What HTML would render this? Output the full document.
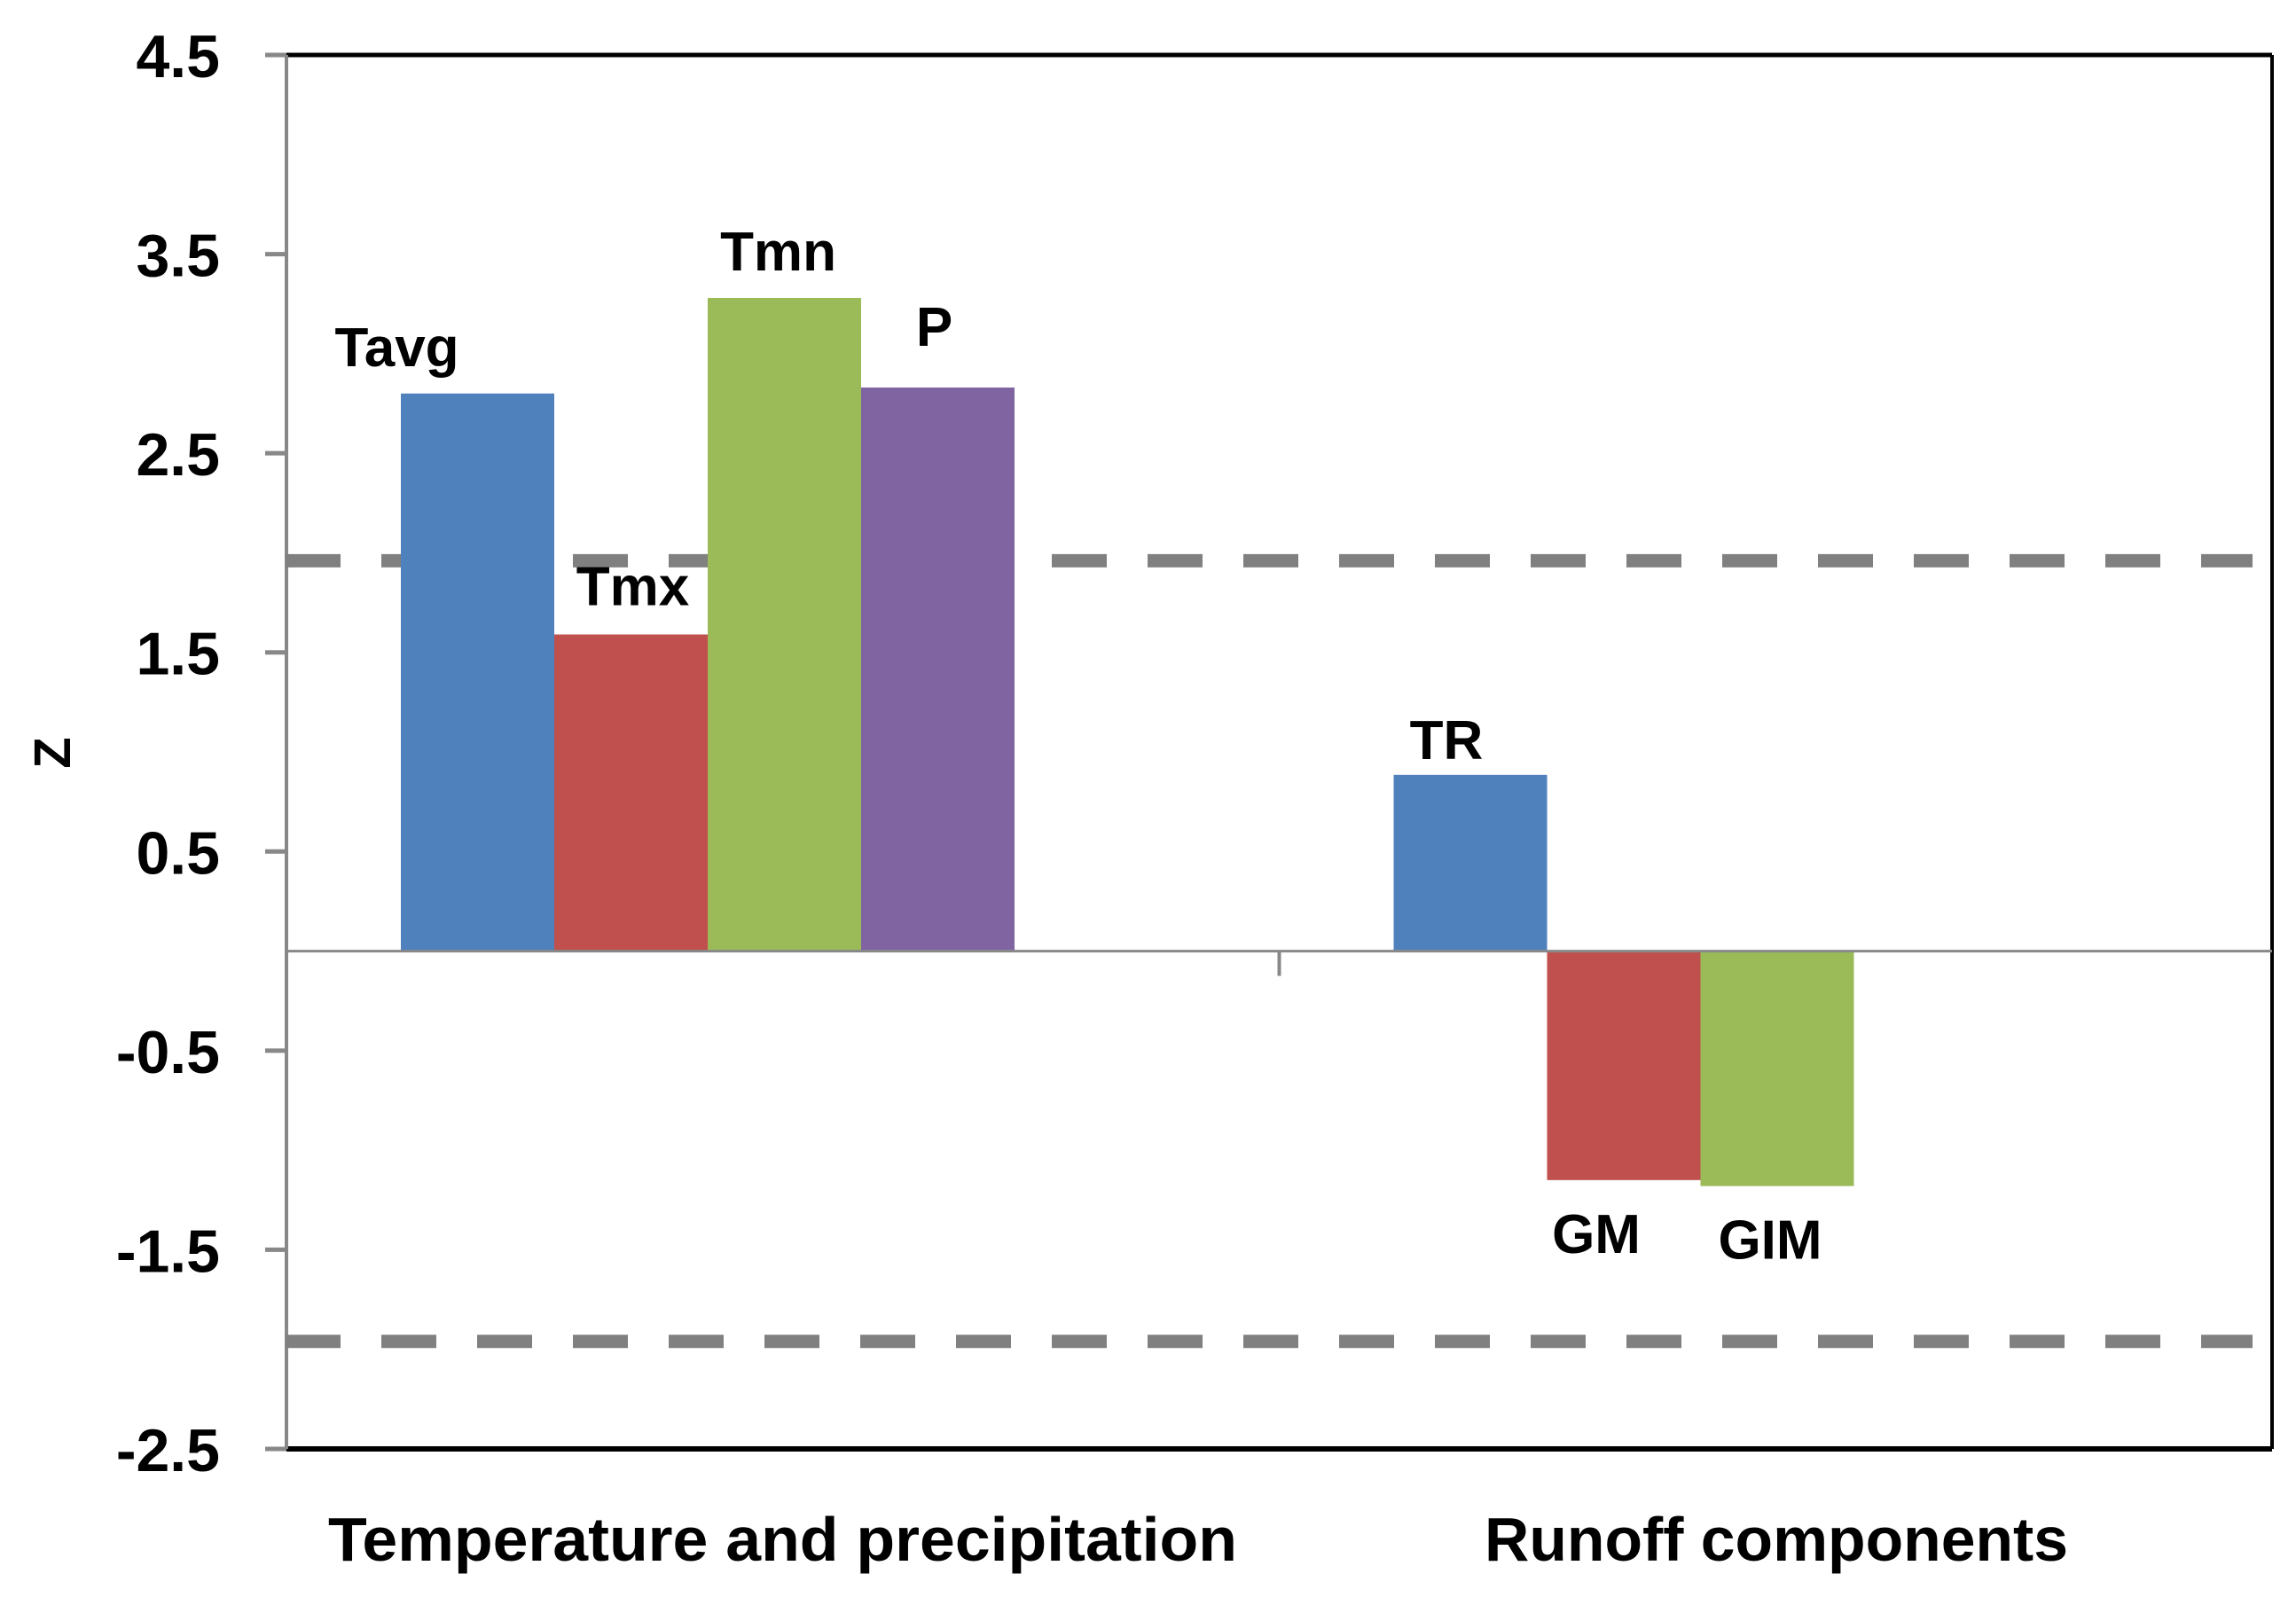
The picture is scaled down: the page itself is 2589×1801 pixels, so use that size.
<!DOCTYPE html>
<html><head><meta charset="utf-8"><style>html,body{margin:0;padding:0;background:#fff}svg{display:block}text{font-family:"Liberation Sans",sans-serif;font-weight:bold;fill:#000}</style></head>
<body>
<svg id="chart" width="2589" height="1801" viewBox="0 0 2589 1801" xmlns="http://www.w3.org/2000/svg"></svg>
<script>
const categories = ["Temperature and precipitation", "Runoff components"];
const group1Labels = ["Tavg", "Tmx", "Tmn", "P"];
const group1Values = [2.80, 1.59, 3.28, 2.83];
const group2Labels = ["TR", "GM", "GIM"];
const group2Values = [0.885, -1.15, -1.18];
const yTicks = [4.5, 3.5, 2.5, 1.5, 0.5, -0.5, -1.5, -2.5];
const yTickLabels = ["4.5", "3.5", "2.5", "1.5", "0.5", "-0.5", "-1.5", "-2.5"];
const criticalValues = [1.96, -1.96];

const colors = ["#4f81bd", "#c0504d", "#9bbb59", "#8064a2"];
const L = 323, R = 2562, T = 62, B = 1634;
const yMin = -2.5, yMax = 4.5;
const y = v => T + (yMax - v) / (yMax - yMin) * (B - T);
const band = (R - L) / categories.length;
const barW = 173;
const groupOffset = 129;
const xBar = (g, i) => L + g * band + groupOffset + i * barW;
const svg = document.getElementById('chart');
const NS = "http://www.w3.org/2000/svg";
function mk(tag, attrs, parent) {
  const e = document.createElementNS(NS, tag);
  for (const k in attrs) e.setAttribute(k, attrs[k]);
  (parent || svg).appendChild(e);
  return e;
}
let e = mk('line', {x1: L, y1: T, x2: R, y2: T, stroke: '#000', 'stroke-width': 5});


e = mk('line', {x1: R, y1: T, x2: R, y2: B, stroke: '#000', 'stroke-width': 4});


e = mk('line', {x1: L, y1: B, x2: R, y2: B, stroke: '#000', 'stroke-width': 6});


e = mk('line', {x1: L, y1: T, x2: L, y2: B, stroke: '#888', 'stroke-width': 4});



yTicks.forEach((v, i) => {
  const t = mk('line', {x1: L - 24, y1: y(v), x2: L, y2: y(v), stroke: '#888', 'stroke-width': 5});
  
  
  const lb = mk('text', {x: 248, y: y(v) + 25, 'text-anchor': 'end', 'font-size': 68});
  lb.textContent = yTickLabels[i];
  
  
});
e = mk('text', {x: 0, y: 0, 'text-anchor': 'middle', 'font-size': 58, transform: 'translate(79,849) rotate(-90)'});
e.textContent = 'Z';



criticalValues.forEach(v => {
  const d = mk('line', {x1: 322, y1: y(v), x2: 2540, y2: y(v), stroke: '#808080', 'stroke-width': 15, 'stroke-dasharray': '62 46'});
  
  
});

const groups = [[group1Labels, group1Values], [group2Labels, group2Values]];
const labelOffsets = [[[-91, -31], [2, -33], [-7, -31], [-4, -47]], [[-27, -18], [-31, 100], [-8, 100]]];
groups.forEach((g, gi) => {
  g[1].forEach((v, i) => {
    const x = xBar(gi, i);
    const top = Math.min(y(v), y(0)), h = Math.abs(y(v) - y(0));
    const r = mk('rect', {x: x, y: top, width: barW, height: h, fill: colors[i]});
    
    
    const off = labelOffsets[gi][i];
    const ly = v >= 0 ? y(v) + off[1] : y(v) + off[1] - 18;
    const t = mk('text', {x: x + barW / 2 + off[0], y: ly, 'text-anchor': 'middle', 'font-size': 62});
    t.textContent = g[0][i];
    
    
  });
});

e = mk('line', {x1: L, y1: y(0), x2: R, y2: y(0), stroke: '#888', 'stroke-width': 3});


e = mk('line', {x1: L + band, y1: y(0), x2: L + band, y2: y(0) + 28, stroke: '#888', 'stroke-width': 4});



const catX = [[370, 1025], [1674, 658]];
categories.forEach((c, i) => {
  const t = mk('text', {x: catX[i][0], y: 1760, 'font-size': 70, textLength: catX[i][1], lengthAdjust: 'spacingAndGlyphs'});
  t.textContent = c;
  
  
});
</script>
</body></html>
